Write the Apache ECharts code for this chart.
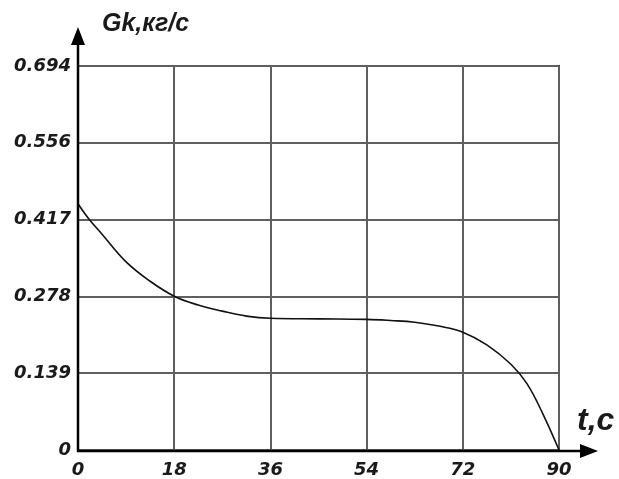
<!DOCTYPE html>
<html>
<head>
<meta charset="utf-8">
<script src="https://cdn.jsdelivr.net/npm/echarts@6/dist/echarts.min.js"></script>
<style>html,body{margin:0;padding:0;background:#fff}#c{width:619px;height:479px}</style>
</head>
<body>
<div id="c"></div>
<script>
var tValues = [0, 2, 4.5, 9, 13.5, 18, 22.5, 27, 31.5, 36, 45, 54, 58.5, 63, 67.5, 72, 76.5, 81, 84, 87, 90];
var gValues = [0.445, 0.418, 0.39, 0.34, 0.305, 0.278, 0.262, 0.251, 0.242, 0.238, 0.237, 0.236, 0.234, 0.231, 0.224, 0.213, 0.19, 0.155, 0.12, 0.065, 0];
var xTickLabels = ['0', '18', '36', '54', '72', '90'];
var yTickLabels = ['0', '0.139', '0.278', '0.417', '0.556', '0.694'];
var yMax = 0.694;
var yTitle = 'Gk,кг/с';
var xTitle = 't,c';

var points = tValues.map(function (t, i) { return [t, gValues[i]]; });
var font = '"Liberation Sans", Arial, sans-serif';
var tickFont = '"DejaVu Sans", Verdana, sans-serif';
var chart = echarts.init(document.getElementById('c'));
var yStep = yMax / 5;
chart.setOption({
  animation: false,
  grid: { left: 78, right: 60, top: 66, bottom: 28, show: true, borderColor: '#333', borderWidth: 2, backgroundColor: 'transparent' },
  xAxis: {
    type: 'value', min: 0, max: 90, interval: 18,
    axisLine: { show: false },
    axisTick: { show: false },
    splitLine: { show: true, lineStyle: { color: '#5f5f5f', width: 2 } },
    axisLabel: {
      margin: 11, color: '#1a1a1a', fontFamily: tickFont, fontSize: 18, fontWeight: 'bold', fontStyle: 'italic',
      formatter: function (v) { return xTickLabels[Math.round(v / 18)]; }
    }
  },
  yAxis: {
    type: 'value', min: 0, max: yMax, interval: yStep,
    axisLine: { show: false },
    axisTick: { show: false },
    splitLine: { show: true, lineStyle: { color: '#5f5f5f', width: 2 } },
    axisLabel: {
      margin: 7, color: '#1a1a1a', fontFamily: tickFont, fontSize: 18, fontWeight: 'bold', fontStyle: 'italic',
      padding: [12, 0, 0, 0],
      formatter: function (v) { return yTickLabels[Math.round(v / yStep)]; }
    }
  },
  series: [{
    type: 'line', data: points, smooth: 0.4, showSymbol: false,
    lineStyle: { color: '#111', width: 1.6 }
  }],
  graphic: [
    { type: 'line', shape: { x1: 78, y1: 452, x2: 78, y2: 40 }, style: { stroke: '#000', lineWidth: 2.5 }, z: 100 },
    { type: 'polygon', shape: { points: [[78, 27], [71, 45], [85, 45]] }, style: { fill: '#000' }, z: 100 },
    { type: 'line', shape: { x1: 77, y1: 451, x2: 585, y2: 451 }, style: { stroke: '#000', lineWidth: 2.5 }, z: 100 },
    { type: 'polygon', shape: { points: [[598, 451], [580, 444], [580, 458]] }, style: { fill: '#000' }, z: 100 },
    { type: 'text', left: 102, top: 12, style: { text: yTitle, font: 'italic bold 25px ' + font, fill: '#1a1a1a' }, z: 100 },
    { type: 'text', left: 577, top: 405, style: { text: xTitle, font: 'italic bold 32px ' + font, fill: '#1a1a1a' }, z: 100 }
  ]
});
</script>
</body>
</html>
